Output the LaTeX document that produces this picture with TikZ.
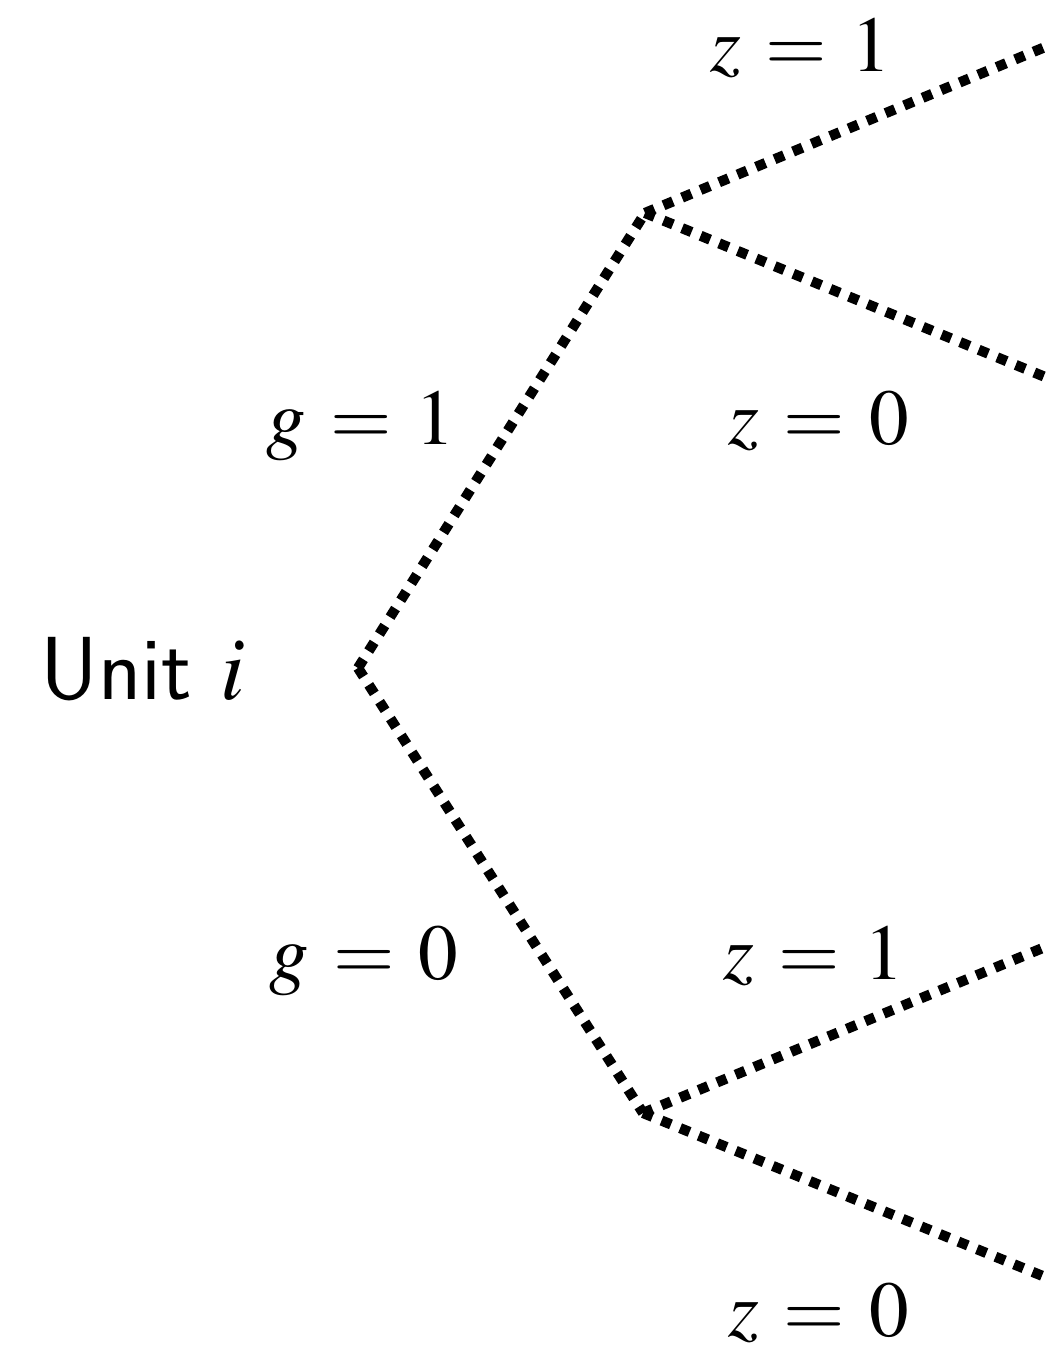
\documentclass[tikz,border=0pt]{standalone}
\usepackage{mathptmx}
\usepackage[no-math]{fontspec}
\usepackage{tikz}
\usetikzlibrary{positioning, calc}
\thickmuskip=5.5mu plus 5mu

\begin{document}
\begin{tikzpicture}[every node/.style={font=\fontsize{22.5}{27}\selectfont, anchor=base, inner sep=0pt},
    branch/.style={line width=2.9pt, dash pattern=on 2.9pt off 2.8pt}]
    \useasboundingbox (0,0) rectangle (10.5,13.49);

    % Vertices of the tree
    \coordinate (root) at (3.58,6.81);
    \coordinate (gone) at (6.45,11.36);
    \coordinate (gzero) at (6.43,2.36);
    \coordinate (leafa) at (10.5,13.04);
    \coordinate (leafb) at (10.5,9.70);
    \coordinate (leafc) at (10.5,4.04);
    \coordinate (leafd) at (10.5,0.70);

    % Branches
    \draw[branch] (root) -- (gone);
    \draw[branch] (root) -- (gzero);
    \draw[branch] (gone) -- (leafa);
    \draw[branch] (gone) -- (leafb);
    \draw[branch] (gzero) -- (leafc);
    \draw[branch] (gzero) -- (leafd);

    % Labels
    \node[font=\fontsize{25.5}{30}\selectfont] (unit) at (1.43,6.49) {\sffamily Unit $i$};
    \node (lgone) at (3.61,9.04) {$g = 1$};
    \node (lgzero) at (3.64,3.69) {$g = 0$};
    \node (lza) at (8.01,12.77) {$z = 1$};
    \node (lzb) at (8.19,9.04) {$z = 0$};
    \node (lzc) at (8.14,3.69) {$z = 1$};
    \node (lzd) at (8.19,0.13) {$z = 0$};
\end{tikzpicture}
\end{document}
